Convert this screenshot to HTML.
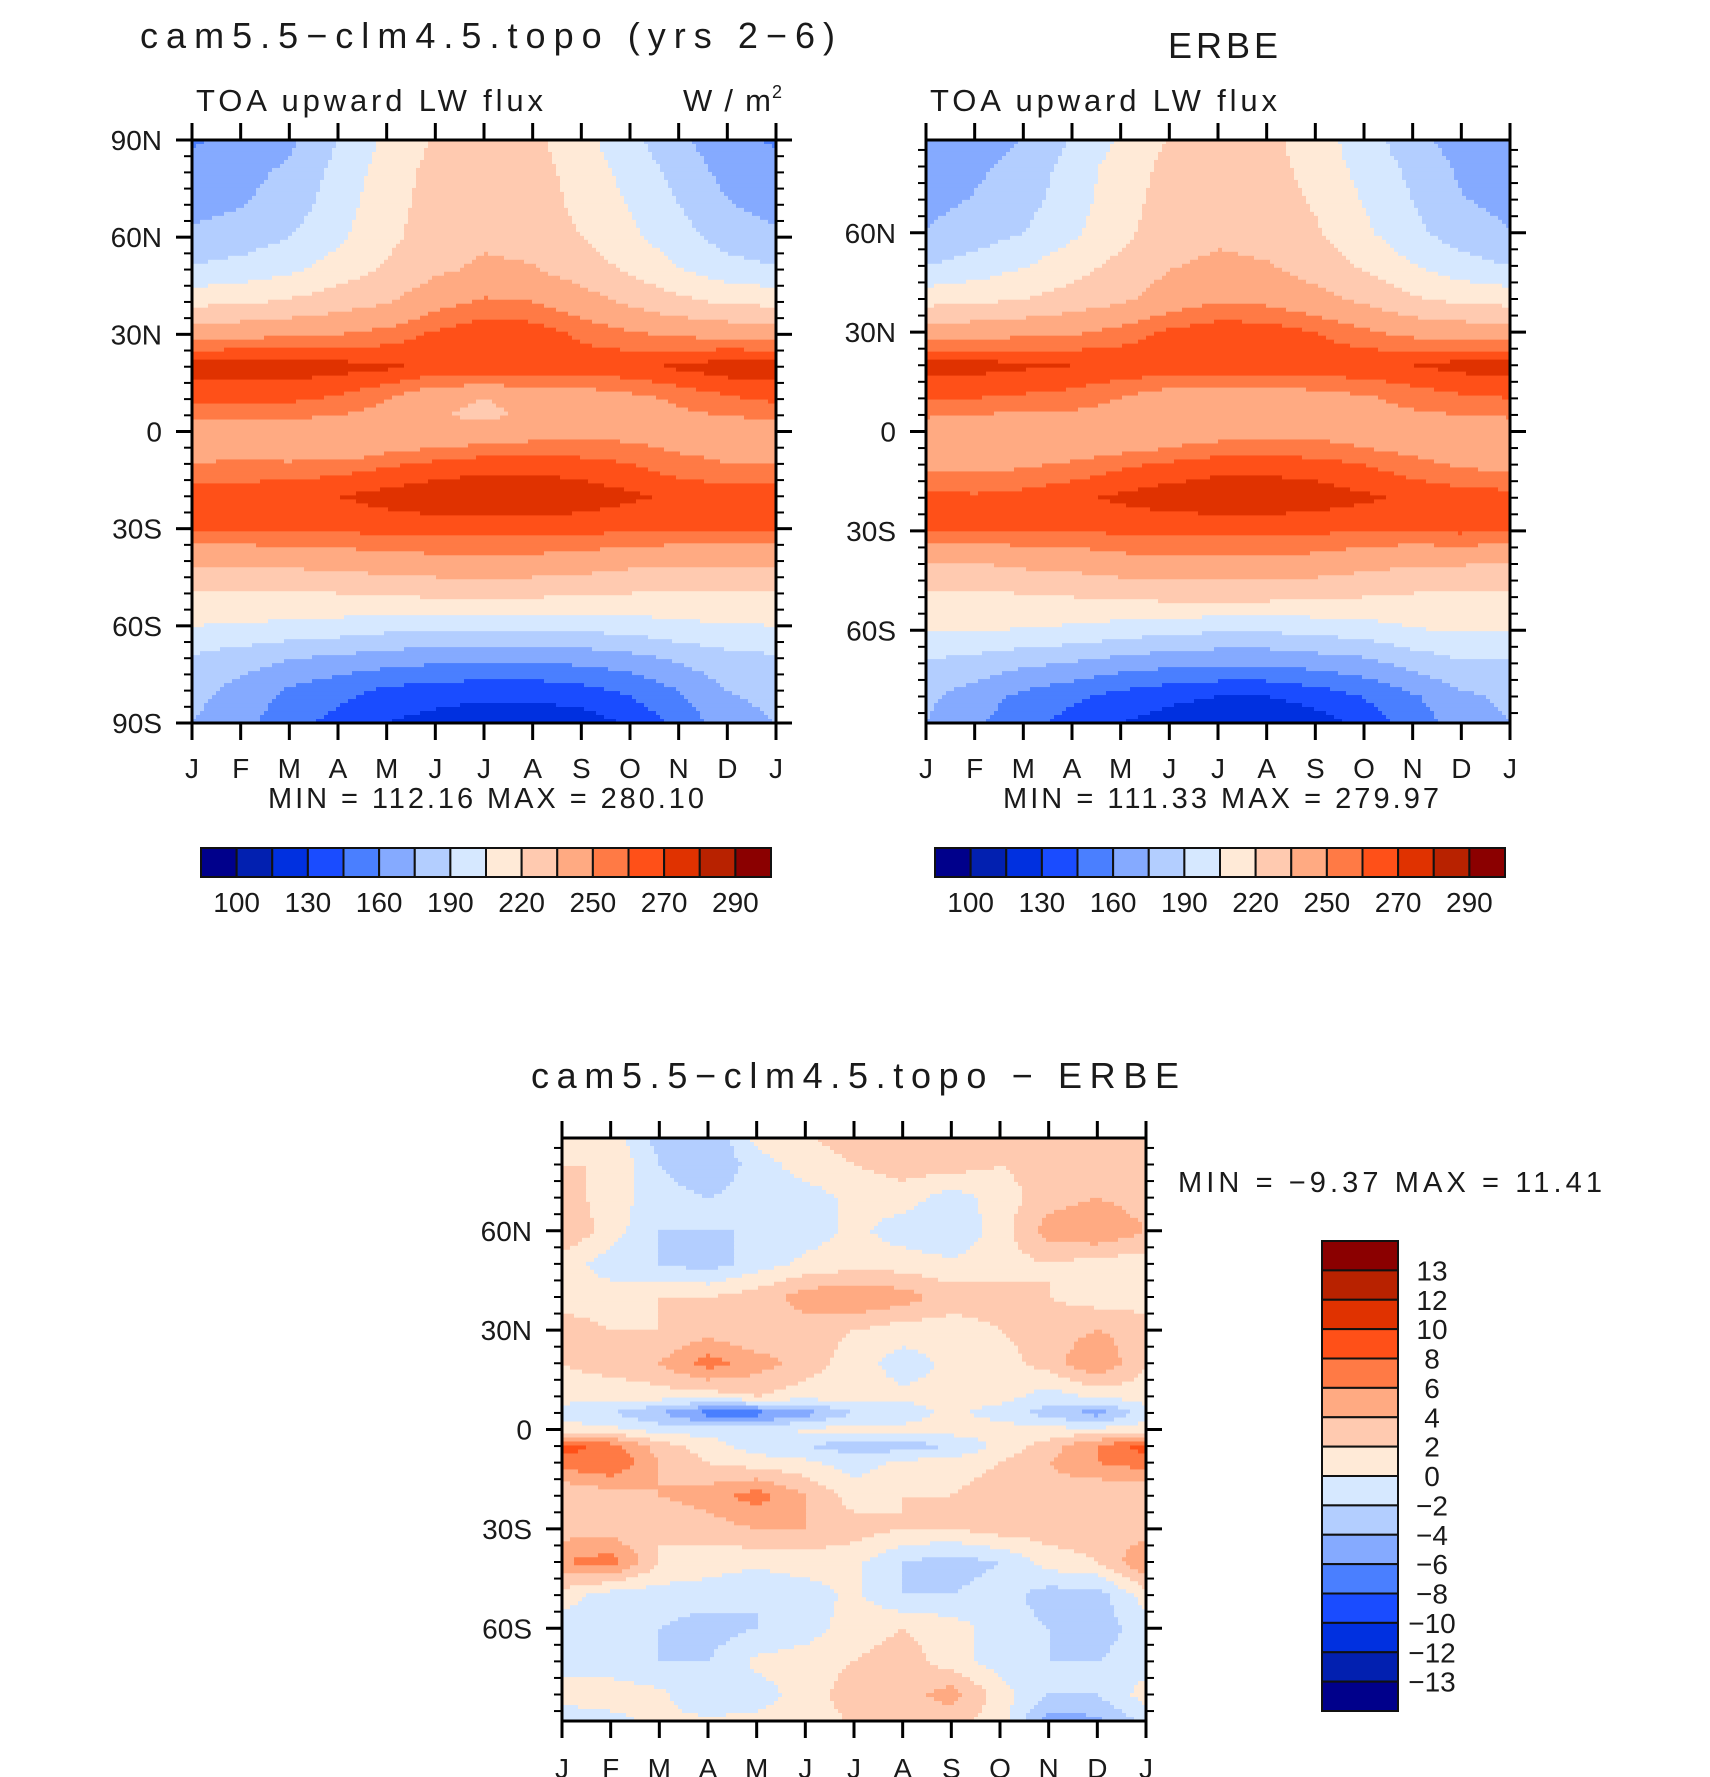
<!DOCTYPE html>
<html><head><meta charset="utf-8"><style>
html,body{margin:0;padding:0;background:#fff}
svg{display:block}
text{font-family:"Liberation Sans",sans-serif;fill:#1a1a1a}
</style></head><body>
<svg id="fig" width="1710" height="1777" viewBox="0 0 1710 1777" xmlns="http://www.w3.org/2000/svg">
<text x="140" y="48" font-size="36" textLength="695" lengthAdjust="spacing">cam5.5−clm4.5.topo (yrs 2−6)</text>
<text x="196" y="111" font-size="31" textLength="347" lengthAdjust="spacing">TOA upward LW flux</text>
<text x="683" y="111" font-size="31" textLength="88" lengthAdjust="spacing">W/m</text>
<text x="772" y="98" font-size="18">2</text>
<text x="1168" y="58" font-size="36" textLength="110" lengthAdjust="spacing">ERBE</text>
<text x="930" y="111" font-size="31" textLength="347" lengthAdjust="spacing">TOA upward LW flux</text>
<text x="268" y="808" font-size="29" textLength="436" lengthAdjust="spacing">MIN = 112.16 MAX = 280.10</text>
<text x="1003" y="808" font-size="29" textLength="436" lengthAdjust="spacing">MIN = 111.33 MAX = 279.97</text>
<text x="531" y="1088" font-size="36" textLength="648" lengthAdjust="spacing">cam5.5−clm4.5.topo − ERBE</text>
<text x="1178" y="1192" font-size="29" textLength="424" lengthAdjust="spacing">MIN =  −9.37 MAX =  11.41</text>
<g id="layer"></g>
</svg>
<script>
// ---- data ----
const months = ['J','F','M','A','M','J','J','A','S','O','N','D','J'];
const lats = [90,80,70,60,50,40,30,20,10,5,0,-5,-10,-20,-30,-40,-50,-60,-70,-80,-90];
const fluxLevels = [100,115,130,145,160,175,190,205,220,235,250,260,270,280,290];
const fluxTickLabels = ['100','130','160','190','220','250','270','290'];
const diffLevels = [-13,-12,-10,-8,-6,-4,-2,0,2,4,6,8,10,12,13];
const diffTickLabels = ['13','12','10','8','6','4','2','0','−2','−4','−6','−8','−10','−12','−13'];
const palette = ['#00008b','#0220b0','#0030e0','#1a4cff','#4a7fff','#85aaff','#b3ceff','#d6e8ff','#ffead7','#ffcab0','#ffaa82','#ff7a45','#ff5018','#e03200','#b82200','#8b0000'];
const modelFlux = [
[158,165,172,190,208,222,226,224,210,195,178,165,158],
[165,170,178,195,212,225,228,226,214,200,185,170,165],
[170,174,182,198,214,226,230,228,216,204,190,176,170],
[178,182,190,202,216,228,232,230,220,208,196,184,178],
[192,196,202,212,222,232,238,236,228,218,206,196,192],
[216,218,222,228,234,245,252,250,242,232,224,218,216],
[245,246,248,250,254,262,268,266,258,252,248,246,245],
[276,276,276,274,272,268,270,268,266,268,272,276,276],
[262,262,262,258,250,238,235,238,242,246,252,258,262],
[252,252,252,250,246,236,232,238,244,246,248,250,252],
[246,246,244,242,242,240,242,244,246,246,246,246,246],
[244,244,238,236,246,250,252,254,254,252,248,246,244],
[250,252,252,254,258,262,266,266,264,260,254,250,250],
[266,266,268,270,274,278,279,279,276,272,268,266,266],
[262,262,262,262,264,264,264,264,264,262,262,262,262],
[238,238,240,242,244,246,246,246,244,240,238,238,238],
[218,218,218,220,222,224,224,224,222,220,218,218,218],
[205,204,202,200,196,194,193,193,195,198,202,204,205],
[188,182,176,172,168,165,164,164,166,170,178,185,188],
[180,170,158,150,142,138,136,136,140,148,160,175,180],
[175,165,150,140,130,124,118,118,122,132,150,168,175]];
const erbeFlux = [
[160,166,174,190,206,220,226,224,212,196,180,166,160],
[166,172,180,196,212,224,228,226,214,200,186,172,166],
[170,176,184,198,214,226,230,228,218,204,190,176,170],
[176,182,190,202,216,228,232,230,222,208,194,182,176],
[190,196,204,214,224,234,238,236,228,218,206,196,190],
[214,216,220,226,232,242,248,246,240,232,222,216,214],
[242,244,246,248,254,262,266,266,260,252,246,244,242],
[274,274,272,270,268,268,270,270,268,268,270,274,274],
[260,260,258,256,250,242,238,240,244,248,254,258,260],
[252,250,248,248,244,240,240,242,244,246,248,250,252],
[240,240,242,244,244,244,244,246,246,246,244,242,240],
[238,238,238,242,246,250,254,254,254,250,246,240,238],
[246,246,248,252,258,262,266,266,264,260,254,248,246],
[264,262,264,268,272,276,278,278,276,272,268,266,264],
[260,260,260,260,262,262,262,262,262,260,260,262,260],
[234,234,238,240,244,246,246,246,244,240,236,236,234],
[216,216,218,220,222,224,224,224,222,220,218,216,216],
[206,206,204,202,198,194,192,192,194,198,204,206,206],
[188,184,178,174,168,164,162,162,166,170,180,188,188],
[178,168,156,148,140,134,130,130,136,146,158,172,178],
[174,162,148,138,128,120,114,114,120,132,150,166,174]];
const diffFlux = [
[2,1,-3,-4,1,2,3,4,4,3,2,3,2],
[2,2,-2,-4,-1,1,2,3,3,2,3,2,2],
[3,1,-1,-2,-1,-1,0.5,1,-1,1,3,4,3],
[4,1,-2,-2,-2,-1,0.5,-1,-2,1,5,6,4],
[1,-1,-2,-3,-1,0.5,1,1,0.5,1,2,1,1],
[1,1,2,2,3,5,6,5,3,3,2,1,1],
[3,2,2,3,2,3,2,1,1,2,3,4,3],
[2,3,4,7,5,3,1,-1,0.5,1,3,6,2],
[1,0.5,1,1,2,1,1,0.5,0.5,1,-1,0.5,1],
[-1,-2,-4,-7,-7,-5,-2,-1,0.5,-1,-3,-5,-1],
[1,0.5,-1,-1,-1,0.5,0.5,0.5,1,1,0.5,0.5,1],
[9,7,3,1,-1,-2,-3,-3,-2,0.5,3,6,9],
[7,8,4,2,1,0.5,-1,0.5,1,2,4,6,7],
[2,3,4,5,7,4,1,2,2,3,3,2,2],
[3,3,2,3,4,4,3,2,2,3,3,3,3],
[6,7,2,1,0.5,1,0.5,-2,-3,-2,1,2,6],
[1,-1,-1,-1,-2,-1,0.5,-2,-2,-1,-3,-3,1],
[-1,-2,-2,-3,-2,-1,1,2,1,-1,-2,-3,-1],
[-1,-1,-2,-2,0.5,1,2,3,1,-1,-2,-2,-1],
[1,1,0.5,-2,-1,1,3,3,5,1,-2,-2,1],
[-2,-1,0.5,1,1,1,2,2,2,1,-6,-5,-2]];

const NS='http://www.w3.org/2000/svg';
const layer=document.getElementById('layer');
function mk(tag,attrs,parent){const e=document.createElementNS(NS,tag);for(const k in attrs)e.setAttribute(k,attrs[k]);(parent||layer).appendChild(e);return e;}
function colorFor(v,levels){let i=0;while(i<levels.length&&v>=levels[i])i++;return palette[i];}
function sample(grid,m,lat){
  let r=0;while(r<lats.length-2&&lat<lats[r+1])r++;
  const t=(lats[r]-lat)/(lats[r]-lats[r+1]);
  const c=Math.min(Math.floor(m),months.length-2);const u=m-c;
  const a=grid[r][c]*(1-u)+grid[r][c+1]*u, b=grid[r+1][c]*(1-u)+grid[r+1][c+1]*u;
  return a*(1-t)+b*t;
}
function drawPanel(name,grid,levels,P,latLabels){
  const g=mk('g',{});
  
  
  const xs=m=>P.x0+(P.x1-P.x0)*m/(months.length-1);
  const ys=l=>P.y0+(P.y1-P.y0)*(P.latTop-l)/(P.latTop-P.latBot);
  const NX=146,NY=146;
  const cw=(P.x1-P.x0)/NX, ch=(P.y1-P.y0)/NY;
  for(let j=0;j<NY;j++){
    const lat=P.latTop-(j+0.5)/NY*(P.latTop-P.latBot);
    let start=0,cur=null;
    for(let i=0;i<=NX;i++){
      const col=i<NX?colorFor(sample(grid,(i+0.5)/NX*(months.length-1),lat),levels):null;
      if(col!==cur){
        if(cur){const r=mk('rect',{x:(P.x0+start*cw).toFixed(2),y:(P.y0+j*ch).toFixed(2),width:((i-start)*cw+0.6).toFixed(2),height:(ch+0.6).toFixed(2),fill:cur},g);
          
          }
        cur=col;start=i;
      }
    }
  }
  const ax=mk('g',{stroke:'#000','stroke-width':3,fill:'none'},g);
  
  
  mk('rect',{x:P.x0,y:P.y0,width:P.x1-P.x0,height:P.y1-P.y0},ax);
  months.forEach((mo,i)=>{
    const x=xs(i);
    mk('line',{x1:x,y1:P.y1,x2:x,y2:P.y1+17},ax);
    mk('line',{x1:x,y1:P.y0,x2:x,y2:P.y0-17},ax);
    const t=mk('text',{x:x,y:P.labY,'font-size':28,'text-anchor':'middle',stroke:'none'},g);
    
    
    t.textContent=mo;
  });
  for(let l=-90;l<=90;l+=5){
    if(l>P.latTop||l<P.latBot)continue;
    const y=ys(l), major=(l%30===0);
    const len=major?16:8;
    mk('line',{x1:P.x0,y1:y,x2:P.x0-len,y2:y,'stroke-width':major?3:2},ax);
    mk('line',{x1:P.x1,y1:y,x2:P.x1+len,y2:y,'stroke-width':major?3:2},ax);
  }
  latLabels.forEach(([l,s])=>{
    const t=mk('text',{x:P.x0-30,y:ys(l)+10,'font-size':28,'text-anchor':'end'},g);
    
    
    t.textContent=s;
  });
}
const P1={x0:192,x1:776,y0:140,y1:723,latTop:90,latBot:-90,labY:778};
const P2={x0:926,x1:1510,y0:140,y1:723,latTop:88,latBot:-88,labY:778};
const P3={x0:562,x1:1146,y0:1138,y1:1721,latTop:88,latBot:-88,labY:1778};
drawPanel('model-panel',modelFlux,fluxLevels,P1,[[90,'90N'],[60,'60N'],[30,'30N'],[0,'0'],[-30,'30S'],[-60,'60S'],[-90,'90S']]);
drawPanel('erbe-panel',erbeFlux,fluxLevels,P2,[[60,'60N'],[30,'30N'],[0,'0'],[-30,'30S'],[-60,'60S']]);
drawPanel('diff-panel',diffFlux,diffLevels,P3,[[60,'60N'],[30,'30N'],[0,'0'],[-30,'30S'],[-60,'60S']]);

function hbar(name,x0){
  const g=mk('g',{});
  
  
  const w=570/palette.length;
  palette.forEach((c,i)=>{
    const r=mk('rect',{x:x0+i*w,y:848,width:w,height:29,fill:c,stroke:'#111','stroke-width':2},g);
    
    
  });
  fluxTickLabels.forEach((s,k)=>{
    const t=mk('text',{x:x0+(2*k+1)*w,y:912,'font-size':28,'text-anchor':'middle'},g);
    
    
    t.textContent=s;
  });
}
hbar('model-colorbar',201);
hbar('erbe-colorbar',935);
(function(){
  const g=mk('g',{});
  
  
  const h=470/palette.length;
  palette.slice().reverse().forEach((c,i)=>{
    const r=mk('rect',{x:1322,y:1241+i*h,width:76,height:h,fill:c,stroke:'#111','stroke-width':2},g);
    
    
  });
  diffTickLabels.forEach((s,k)=>{
    const t=mk('text',{x:1432,y:1241+(k+1)*h+10,'font-size':28,'text-anchor':'middle'},g);
    
    
    t.textContent=s;
  });
})();
</script>
</body></html>
